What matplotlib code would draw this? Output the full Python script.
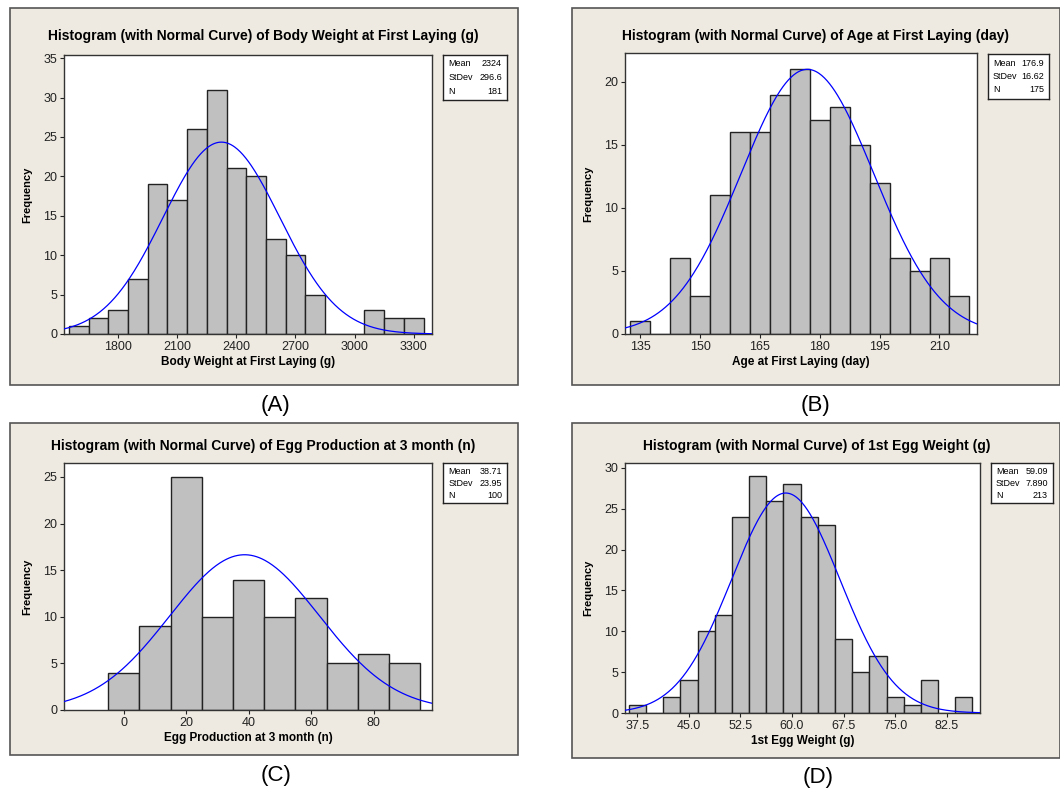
import numpy as np
import matplotlib
matplotlib.use("Agg")
import matplotlib.pyplot as plt
from matplotlib.patches import Rectangle

plt.rcParams["font.family"] = ["Liberation Sans", "DejaVu Sans"]

# data

bw_centers = [1600, 1700, 1800, 1900, 2000, 2100, 2200, 2300, 2400, 2500,
              2600, 2700, 2800, 2900, 3000, 3100, 3200, 3300]
bw_counts = [1, 2, 3, 7, 19, 17, 26, 31, 21, 20, 12, 10, 5, 0, 0, 3, 2, 2]
bw_stats = {"Mean": "2324", "StDev": "296.6", "N": "181"}

age_centers = [135, 140, 145, 150, 155, 160, 165, 170, 175, 180, 185, 190,
               195, 200, 205, 210, 215]
age_counts = [1, 0, 6, 3, 11, 16, 16, 19, 21, 17, 18, 15, 12, 6, 5, 6, 3]
age_stats = {"Mean": "176.9", "StDev": "16.62", "N": "175"}

egg_centers = [0, 10, 20, 30, 40, 50, 60, 70, 80, 90]
egg_counts = [4, 9, 25, 10, 14, 10, 12, 5, 6, 5]
egg_stats = {"Mean": "38.71", "StDev": "23.95", "N": "100"}

ew_centers = [37.5, 40, 42.5, 45, 47.5, 50, 52.5, 55, 57.5, 60, 62.5, 65,
              67.5, 70, 72.5, 75, 77.5, 80, 82.5, 85]
ew_counts = [1, 0, 2, 4, 10, 12, 24, 29, 26, 28, 24, 23, 9, 5, 7, 2, 1, 4, 0, 2]
ew_stats = {"Mean": "59.09", "StDev": "7.890", "N": "213"}

W, H = 1060, 791
BG = "#EEEAE1"

fig = plt.figure(figsize=(W / 100, H / 100), dpi=100)


def box(x0, y0, x1, y1):
    # pixel box -> figure fraction [left, bottom, width, height]
    return [x0 / W, 1 - y1 / H, (x1 - x0) / W, (y1 - y0) / H]


def panel(frame, axbox, statbox, title, title_xy, xlabel, centers, counts,
          width, stats, xlim, ylim, xticks, xticklabels, yticks, letter, letter_xy):
    fx0, fy0, fx1, fy1 = frame
    fig.patches.append(Rectangle((fx0 / W, 1 - fy1 / H), (fx1 - fx0) / W, (fy1 - fy0) / H,
                                 transform=fig.transFigure, facecolor=BG,
                                 edgecolor="#555555", linewidth=1.2, zorder=-5))
    fig.text(title_xy[0] / W, 1 - title_xy[1] / H, title, ha="center", va="center",
             fontsize=10, fontweight="bold")
    fig.text(letter_xy[0] / W, 1 - letter_xy[1] / H, letter, ha="center", va="center",
             fontsize=16)

    ax = fig.add_axes(box(*axbox))
    ax.set_facecolor("white")
    ax.bar(centers, counts, width=width, color="#C0C0C0", edgecolor="#222222",
           linewidth=1.0, zorder=2)
    mean = float(stats["Mean"])
    sd = float(stats["StDev"])
    n = float(stats["N"])
    xs = np.linspace(xlim[0], xlim[1], 400)
    ys = n * width / (sd * np.sqrt(2 * np.pi)) * np.exp(-0.5 * ((xs - mean) / sd) ** 2)
    ax.plot(xs, ys, color="#0000FF", linewidth=0.9, zorder=3)
    ax.set_xlim(*xlim)
    ax.set_ylim(*ylim)
    ax.set_xticks(xticks)
    ax.set_xticklabels(xticklabels)
    ax.set_yticks(yticks)
    ax.tick_params(direction="out", length=3, width=0.8, labelsize=9, pad=2,
                   colors="#222222")
    for s in ax.spines.values():
        s.set_color("#333333")
        s.set_linewidth(1.0)
    ax.set_xlabel(xlabel, fontsize=8.5, fontweight="bold", labelpad=2)
    ax.set_ylabel("Frequency", fontsize=8, fontweight="bold", labelpad=8)

    sax = fig.add_axes(box(*statbox))
    sax.set_xticks([])
    sax.set_yticks([])
    sax.set_facecolor("white")
    for s in sax.spines.values():
        s.set_color("#222222")
        s.set_linewidth(1.0)
    for i, (k, v) in enumerate(stats.items()):
        yy = 0.8 - i * 0.3
        sax.text(0.08, yy, k, ha="left", va="center", fontsize=6.5, transform=sax.transAxes)
        sax.text(0.92, yy, v, ha="right", va="center", fontsize=6.5, transform=sax.transAxes)


panel((10, 8, 518, 385), (64, 55, 432, 334), (443, 55, 507, 100),
      "Histogram (with Normal Curve) of Body Weight at First Laying (g)", (263, 36),
      "Body Weight at First Laying (g)", bw_centers, bw_counts, 100, bw_stats,
      (1525, 3393), (0, 35.4), [1800, 2100, 2400, 2700, 3000, 3300],
      ["1800", "2100", "2400", "2700", "3000", "3300"], [0, 5, 10, 15, 20, 25, 30, 35],
      "(A)", (276, 405))

panel((572, 8, 1060, 385), (625, 53, 977, 334), (988, 54, 1049, 99),
      "Histogram (with Normal Curve) of Age at First Laying (day)", (815, 36),
      "Age at First Laying (day)", age_centers, age_counts, 5, age_stats,
      (131.2, 219.4), (0, 22.3), [135, 150, 165, 180, 195, 210],
      ["135", "150", "165", "180", "195", "210"], [0, 5, 10, 15, 20],
      "(B)", (815, 405))

panel((10, 423, 518, 755), (64, 463, 432, 710), (443, 463, 507, 503),
      "Histogram (with Normal Curve) of Egg Production at 3 month (n)", (263, 446),
      "Egg Production at 3 month (n)", egg_centers, egg_counts, 10, egg_stats,
      (-19.1, 98.7), (0, 26.5), [0, 20, 40, 60, 80],
      ["0", "20", "40", "60", "80"], [0, 5, 10, 15, 20, 25],
      "(C)", (276, 776))

panel((572, 423, 1060, 758), (625, 463, 980, 713), (991, 463, 1053, 503),
      "Histogram (with Normal Curve) of 1st Egg Weight (g)", (817, 446),
      "1st Egg Weight (g)", ew_centers, ew_counts, 2.5, ew_stats,
      (35.7, 87.35), (0, 30.6), [37.5, 45.0, 52.5, 60.0, 67.5, 75.0, 82.5],
      ["37.5", "45.0", "52.5", "60.0", "67.5", "75.0", "82.5"], [0, 5, 10, 15, 20, 25, 30],
      "(D)", (818, 778))

fig.savefig("out.png", dpi=100, facecolor="white")
